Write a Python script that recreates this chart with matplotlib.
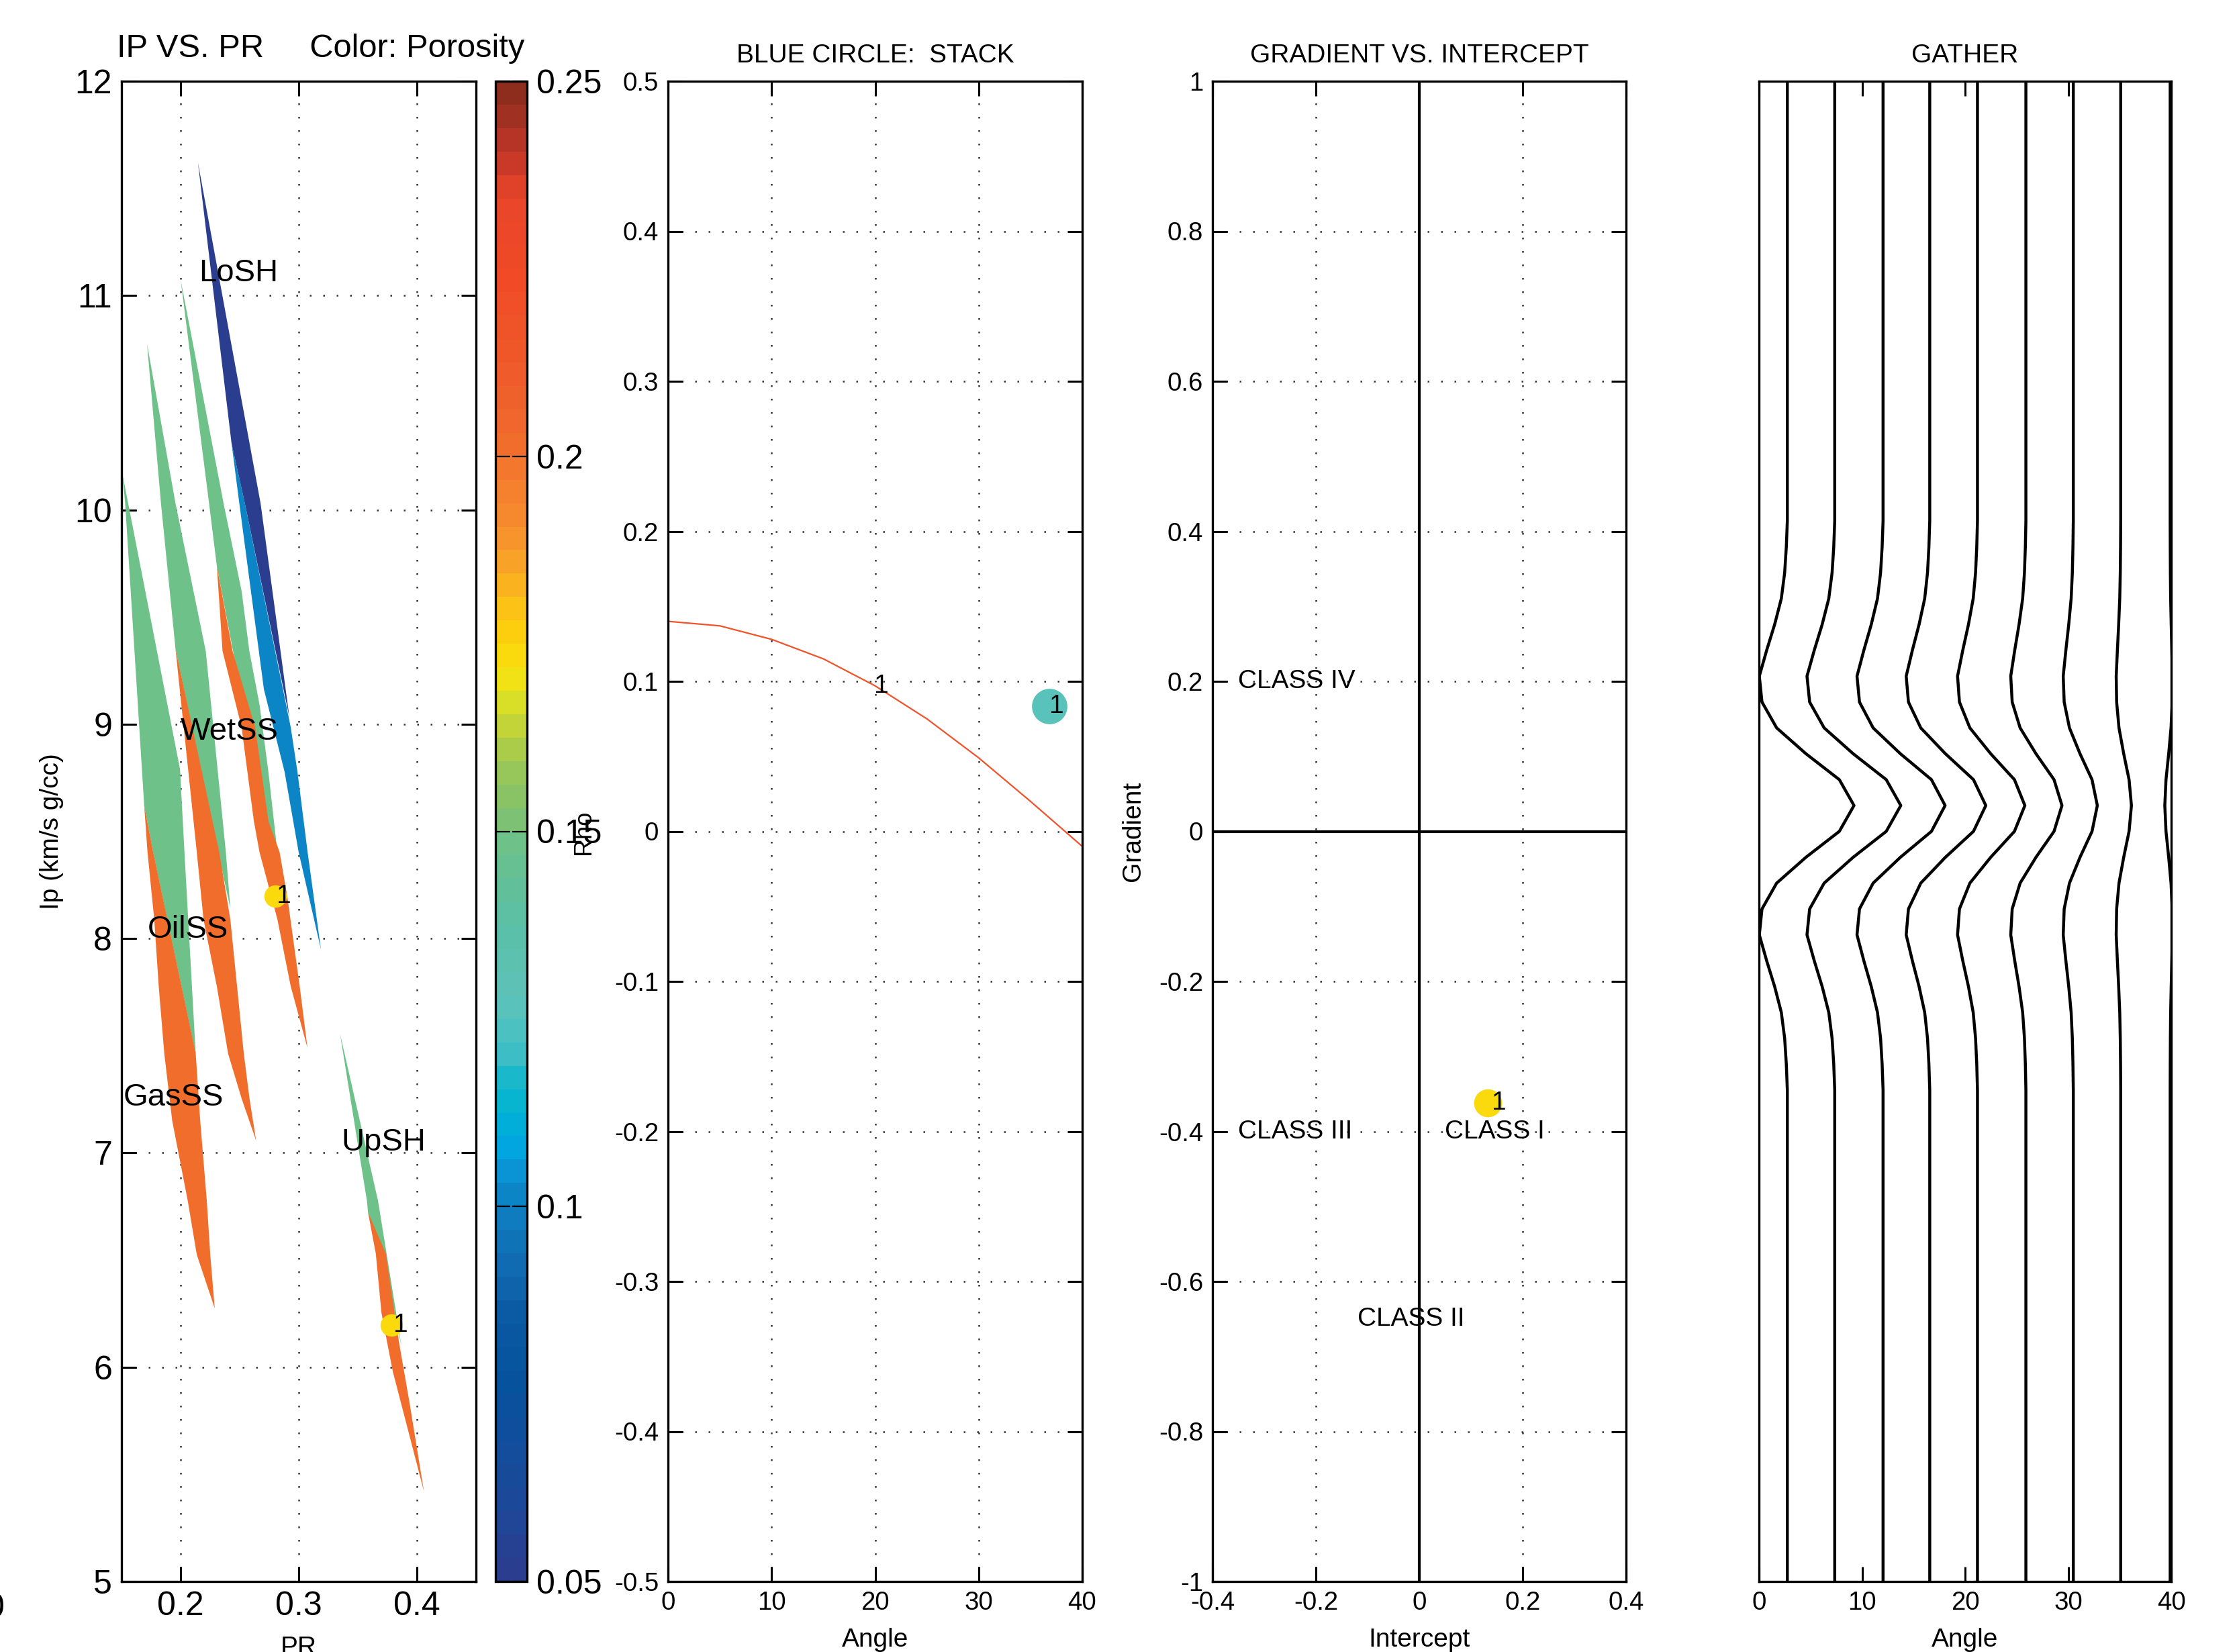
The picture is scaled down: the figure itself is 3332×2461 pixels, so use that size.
import matplotlib
matplotlib.use('Agg')
import matplotlib.pyplot as plt
import numpy as np
from matplotlib.colors import LinearSegmentedColormap, Normalize
from matplotlib.cm import ScalarMappable

plt.rcParams['font.family'] = ['Liberation Sans', 'DejaVu Sans']
plt.rcParams['axes.unicode_minus'] = False

# ---- panel 1: Ip vs PR, bands coloured by porosity ----
gas_wet_pr = [0.1507, 0.1995, 0.2033, 0.2128, 0.1768, 0.1692, 0.1531]
gas_wet_ip = [10.17, 8.79, 8.40, 7.46, 8.40, 8.62, 10.03]
gas_hc_pr = [0.1692, 0.1720, 0.1777, 0.1815, 0.1862, 0.1929, 0.2061, 0.2137, 0.2289,
             0.2251, 0.2222, 0.2166, 0.2128, 0.1768]
gas_hc_ip = [8.62, 8.403, 8.089, 7.776, 7.463, 7.150, 6.775, 6.525, 6.274,
             6.525, 6.775, 7.150, 7.464, 8.403]
oil_wet_pr = [0.1716, 0.1957, 0.2213, 0.2383, 0.2421, 0.2318, 0.1957, 0.1834]
oil_wet_ip = [10.775, 10.03, 9.341, 8.403, 8.141, 8.403, 9.351, 10.03]
oil_hc_pr = [0.1957, 0.2137, 0.2194, 0.2307, 0.2402, 0.2516, 0.2639, 0.2583, 0.2535,
             0.2478, 0.2421, 0.2327]
oil_hc_ip = [9.351, 8.403, 8.089, 7.776, 7.463, 7.254, 7.057, 7.254, 7.463,
             7.776, 8.089, 8.403]
wet_wet_pr = [0.2001, 0.2364, 0.2516, 0.2582, 0.2668, 0.2743, 0.2830, 0.2700, 0.2307, 0.2241]
wet_wet_ip = [11.072, 10.03, 9.622, 9.341, 9.091, 8.778, 8.35, 8.6, 9.737, 10.03]
wet_hc_pr = [0.2307, 0.2355, 0.2516, 0.2620, 0.2668, 0.2819, 0.2932, 0.3074, 0.3008,
             0.2904, 0.2838, 0.2743, 0.2631, 0.2440]
wet_hc_ip = [9.737, 9.341, 8.986, 8.548, 8.403, 8.090, 7.777, 7.489, 7.777,
             8.193, 8.403, 8.548, 8.986, 9.341]
losh_lo_pr = [0.2431, 0.2497, 0.2705, 0.2880, 0.2999, 0.3188, 0.3075, 0.2989, 0.2932, 0.2544]
losh_lo_ip = [10.311, 10.03, 9.163, 8.778, 8.403, 7.948, 8.403, 8.778, 8.986, 10.03]
losh_hi_pr = [0.2147, 0.2677, 0.2800, 0.2922, 0.2544, 0.2431]
losh_hi_ip = [11.62, 10.03, 9.528, 9.028, 10.03, 10.311]
upsh_wet_pr = [0.3349, 0.3671, 0.3870, 0.3813, 0.3586, 0.3577]
upsh_wet_ip = [7.557, 6.776, 6.097, 6.243, 6.723, 6.776]
upsh_hc_pr = [0.3586, 0.3652, 0.3700, 0.3795, 0.4060, 0.3937, 0.3851, 0.3813, 0.3737]
upsh_hc_ip = [6.723, 6.53, 6.253, 5.982, 5.419, 5.836, 6.108, 6.243, 6.53]

band_list = [
    (gas_wet_pr, gas_wet_ip, 0.15), (oil_wet_pr, oil_wet_ip, 0.15),
    (wet_wet_pr, wet_wet_ip, 0.15), (upsh_wet_pr, upsh_wet_ip, 0.15),
    (gas_hc_pr, gas_hc_ip, 0.20), (oil_hc_pr, oil_hc_ip, 0.20),
    (wet_hc_pr, wet_hc_ip, 0.20), (upsh_hc_pr, upsh_hc_ip, 0.20),
    (losh_lo_pr, losh_lo_ip, 0.10), (losh_hi_pr, losh_hi_ip, 0.05),
]

litho_names = ['LoSH', 'WetSS', 'OilSS', 'GasSS', 'UpSH']
litho_pr = [0.2156, 0.2001, 0.1720, 0.1516, 0.3359]
litho_ip = [11.067, 8.929, 8.003, 7.220, 7.010]

pick_pr = [0.2800, 0.3785]
pick_ip = [8.199, 6.196]
pick_por = 0.175

# ---- panel 2: stack reflectivity vs angle ----
angles = [0, 5, 10, 15, 20, 25, 30, 35, 40]
refl = [0.140, 0.137, 0.128, 0.115, 0.097, 0.075, 0.049, 0.020, -0.010]
stack_angle = 36.8
stack_refl = 0.0836
stack_por = 0.127

# ---- panel 3: gradient vs intercept ----
class_names = ['CLASS IV', 'CLASS III', 'CLASS I', 'CLASS II']
class_x = [-0.35, -0.35, 0.05, -0.12]
class_y = [0.20, -0.40, -0.40, -0.65]
pt_intercept = 0.132
pt_gradient = -0.362

# ---- panel 4: gather ----
trace_base = [2.75, 7.35, 12.04, 16.57, 21.2, 25.9, 30.5, 35.1, 39.9]
trace_amp = [6.47, 6.41, 6.02, 5.44, 4.60, 3.50, 2.33, 1.04, -0.52]
wavelet = [0.0] * 17 + [0.0, -0.015, -0.04, -0.09, -0.19, -0.31, -0.42, -0.38, -0.16,
                        0.28, 0.78, 1.0, 0.78, 0.28, -0.16, -0.38, -0.42, -0.31,
                        -0.19, -0.09, -0.04, -0.015, 0.0] + [0.0] * 19
nsamp = len(wavelet)

# colour map sampled off the colour bar
cb_pts = [
    (0.0500, '#2b3d8e'), (0.0579, '#1e4799'), (0.0645, '#154c9b'), (0.0757, '#06529d'),
    (0.0853, '#0b5aa4'), (0.0899, '#1068b0'), (0.0961, '#0f77bb'), (0.1011, '#0c86c8'),
    (0.1043, '#0a95d6'), (0.1076, '#00a8e0'), (0.1122, '#00b4d4'), (0.1168, '#1bb8cb'),
    (0.1201, '#40bfc7'), (0.1276, '#5ec3b8'), (0.1368, '#5bc0a8'), (0.1434, '#62bf95'),
    (0.1483, '#6dc18a'), (0.1526, '#82c26d'), (0.1570, '#92c45f'), (0.1603, '#a5ca4d'),
    (0.1636, '#bdd23c'), (0.1668, '#d4dc2a'), (0.1701, '#efe417'), (0.1747, '#fdd60a'),
    (0.1793, '#fdc613'), (0.1825, '#fbb71d'), (0.1855, '#f9a825'), (0.1888, '#f7992b'),
    (0.1921, '#f68b2d'), (0.1974, '#f47d2e'), (0.2033, '#f06a2c'), (0.2125, '#ef5a2a'),
    (0.2257, '#f04a26'), (0.2362, '#e8452a'), (0.2392, '#d13b27'), (0.2425, '#bf3627'),
    (0.2454, '#a83222'), (0.2500, '#8e2c1e'),
]
cmap = LinearSegmentedColormap.from_list(
    'por', [((v - 0.05) / 0.2, c) for v, c in cb_pts], N=64)
norm = Normalize(0.05, 0.25)

W, H = 3332, 2461
fig = plt.figure(figsize=(W / 200, H / 200), dpi=200)


def box(l, r, t=121, b=2356):
    return [l / W, 1 - b / H, (r - l) / W, (b - t) / H]


grid_kw = dict(color='#333333', linestyle=(0, (1, 7)), linewidth=0.9)
fmt = plt.FuncFormatter(lambda v, p: '%g' % (round(v, 2) + 0.0))


def style(ax, size):
    for s in ax.spines.values():
        s.set_linewidth(1.2)
    ax.tick_params(direction='in', length=8, width=1.1, top=True, right=True,
                   labelsize=size, pad=5)


# panel 1
ax1 = fig.add_axes(box(181, 709))
for pr, ip, por in band_list:
    ax1.fill(pr, ip, color=cmap(norm(por)), lw=0)
ax1.plot(pick_pr, pick_ip, 'o', ms=12, color=cmap(norm(pick_por)), mec='none')
for x, y in zip(pick_pr, pick_ip):
    ax1.text(x + 0.0015, y, '1', fontsize=14, va='center', ha='left')
for n, x, y in zip(litho_names, litho_pr, litho_ip):
    ax1.text(x, y, n, fontsize=17, ha='left', va='baseline')
ax1.set_xlim(0.15, 0.45)
ax1.set_ylim(5, 12)
ax1.set_xticks([0.2, 0.3, 0.4])
ax1.set_xticklabels(['0.2', '0.3', '0.4'])
ax1.set_yticks(range(5, 13))
ax1.set_axisbelow(True)
ax1.grid(True, **grid_kw)
style(ax1, 18)
ax1.set_xlabel('PR', fontsize=14, labelpad=7.5)
ax1.set_ylabel('Ip (km/s g/cc)', fontsize=14, labelpad=6)
fig.text(174 / W, 1 - 85 / H, 'IP VS. PR     Color: Porosity', fontsize=17.6,
         ha='left', va='baseline')

# colour bar
cax = fig.add_axes(box(738, 785))
cb = fig.colorbar(ScalarMappable(norm=norm, cmap=cmap), cax=cax,
                  ticks=[0.05, 0.1, 0.15, 0.2, 0.25])
cb.ax.set_yticklabels(['0.05', '0.1', '0.15', '0.2', '0.25'])
cb.ax.tick_params(direction='in', length=8, width=0.8, left=True, right=True,
                  labelsize=18, pad=5)
cb.outline.set_linewidth(1.2)
fig.text(870 / W, 1 - 1240 / H, 'Rho', rotation=90, fontsize=13,
         ha='center', va='center')
fig.text(-21 / W, 1 - 2373 / H, '0', fontsize=18, ha='left', va='top')

# panel 2
ax2 = fig.add_axes(box(995, 1612))
ax2.plot(angles, refl, color='#f0522a', lw=0.8)
ax2.text(20.6, 0.097, '1', fontsize=14, ha='center', va='center')
ax2.plot([stack_angle], [stack_refl], 'o', ms=19, color=cmap(norm(stack_por)), mec='none')
ax2.text(37.5, stack_refl, '1', fontsize=14, ha='center', va='center')
ax2.set_xlim(0, 40)
ax2.set_ylim(-0.5, 0.5)
ax2.set_xticks([0, 10, 20, 30, 40])
ax2.set_yticks(np.round(np.arange(-0.5, 0.51, 0.1), 1))
ax2.yaxis.set_major_formatter(fmt)
ax2.grid(True, **grid_kw)
style(ax2, 13.8)
ax2.set_title('BLUE CIRCLE:  STACK', fontsize=14, pad=10)
ax2.set_xlabel('Angle', fontsize=14, labelpad=7)

# panel 3
ax3 = fig.add_axes(box(1806, 2422))
ax3.axhline(0, color='k', lw=1.5)
ax3.axvline(0, color='k', lw=1.5)
for n, x, y in zip(class_names, class_x, class_y):
    ax3.text(x, y, n, fontsize=14, ha='left', va='center')
ax3.plot([pt_intercept], [pt_gradient], 'o', ms=15, color=cmap(norm(pick_por)), mec='none')
ax3.text(pt_intercept + 0.022, pt_gradient, '1', fontsize=14, ha='center', va='center')
ax3.set_xlim(-0.4, 0.4)
ax3.set_ylim(-1, 1)
ax3.set_xticks(np.round(np.arange(-0.4, 0.41, 0.2), 1))
ax3.set_yticks(np.round(np.arange(-1, 1.01, 0.2), 1))
ax3.xaxis.set_major_formatter(fmt)
ax3.yaxis.set_major_formatter(fmt)
ax3.grid(True, **grid_kw)
style(ax3, 13.8)
ax3.set_title('GRADIENT VS. INTERCEPT', fontsize=14, pad=10)
ax3.set_xlabel('Intercept', fontsize=14, labelpad=7)
ax3.set_ylabel('Gradient', fontsize=14, labelpad=7)

# panel 4
ax4 = fig.add_axes(box(2620, 3234))
samples = np.arange(nsamp)
w = np.array(wavelet)
for b, a in zip(trace_base, trace_amp):
    ax4.plot(b + a * w, samples, color='k', lw=1.6)
ax4.set_xlim(0, 40)
ax4.set_ylim(nsamp - 1, 0)
ax4.set_xticks([0, 10, 20, 30, 40])
ax4.set_yticks([])
style(ax4, 13.8)
ax4.set_title('GATHER', fontsize=14, pad=10)
ax4.set_xlabel('Angle', fontsize=14, labelpad=7)

fig.savefig('out.png', dpi=200)
